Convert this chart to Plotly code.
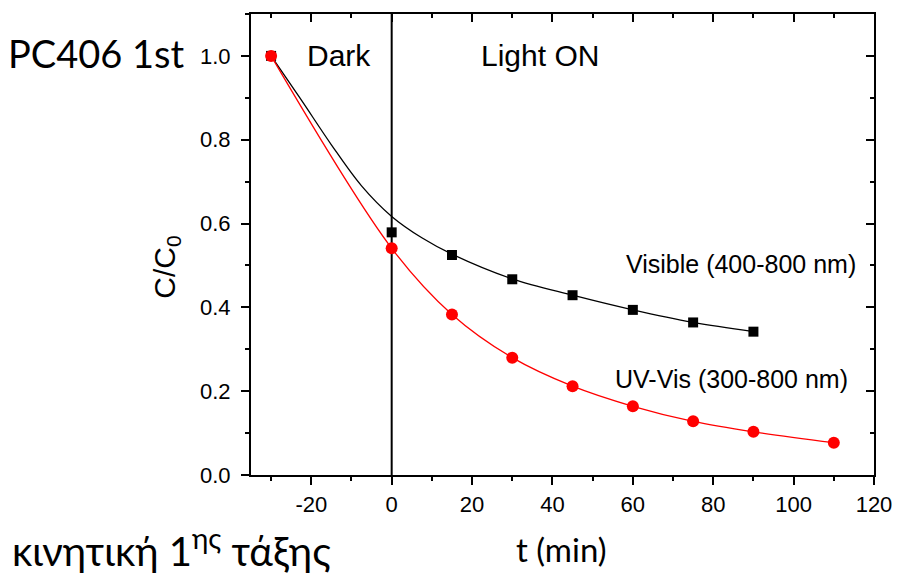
import plotly.graph_objects as go

# Measured normalised concentration C/C0 versus time (min)
t_vis = [-30, 0, 15, 30, 45, 60, 75, 90]
c_vis = [1.0, 0.579, 0.525, 0.467, 0.429, 0.394, 0.364, 0.342]

t_uv = [-30, 0, 15, 30, 45, 60, 75, 90, 110]
c_uv = [1.0, 0.541, 0.383, 0.280, 0.212, 0.164, 0.128, 0.103, 0.077]

# Fitted kinetic curve for the visible-light series
fit_t_vis = [-30, -22.5, -15, -7.5, 0, 7.5, 15, 30, 45, 60, 75, 90]
fit_c_vis = [1.0, 0.895, 0.788, 0.69, 0.617, 0.566, 0.527, 0.468, 0.429, 0.394, 0.364, 0.342]

# Axis ticks
x_tickvals = [-20, 0, 20, 40, 60, 80, 100, 120]
x_ticktext = ["-20", "0", "20", "40", "60", "80", "100", "120"]
x_range = [-35, 120]
y_range = [0, 1.1]

AX_FONT = "Liberation Sans, Arial, sans-serif"
TXT_FONT = "Lato, Noto Sans, sans-serif"

fig = go.Figure()

# fitted lines
fig.add_trace(go.Scatter(x=fit_t_vis, y=fit_c_vis, mode="lines",
                         line=dict(color="black", width=1.3, shape="spline", smoothing=1),
                         showlegend=False, hoverinfo="skip"))
fig.add_trace(go.Scatter(x=t_uv, y=c_uv, mode="lines",
                         line=dict(color="#ff0000", width=1.3, shape="spline"),
                         showlegend=False, hoverinfo="skip"))
# data points
fig.add_trace(go.Scatter(x=t_vis, y=c_vis, mode="markers", name="Visible",
                         marker=dict(symbol="square", size=10, color="black"),
                         showlegend=False))
fig.add_trace(go.Scatter(x=t_uv, y=c_uv, mode="markers", name="UV-Vis",
                         marker=dict(symbol="circle", size=12, color="#ff0000"),
                         showlegend=False))
# carrier for the top/right tick axes
fig.add_trace(go.Scatter(x=t_uv, y=c_uv, mode="markers", xaxis="x2", yaxis="y2",
                         marker=dict(opacity=0), showlegend=False, hoverinfo="skip"))

# light switched on at t = 0
fig.add_vline(x=0, line=dict(color="black", width=2), layer="below")

tickfont = dict(family=AX_FONT, size=22, color="black")

fig.update_layout(
    width=904, height=583,
    margin=dict(l=251, r=28, t=13, b=108),
    paper_bgcolor="white", plot_bgcolor="white",
    xaxis=dict(range=x_range, tickmode="array", tickvals=x_tickvals, ticktext=x_ticktext,
               ticks="outside", ticklen=8, tickwidth=2,
               tickcolor="black", showline=True, linewidth=2, linecolor="black", mirror=True,
               showgrid=False, zeroline=False, tickfont=tickfont, ticklabelstandoff=1,
               minor=dict(dtick=10, tick0=0, ticks="outside", ticklen=4, tickwidth=2,
                          tickcolor="black")),
    yaxis=dict(range=y_range, dtick=0.2, tick0=0, ticks="outside", ticklen=8, tickwidth=2,
               tickcolor="black", showline=True, linewidth=2, linecolor="black", mirror=True,
               showgrid=False, zeroline=False, tickfont=tickfont, tickformat=".1f",
               ticklabelstandoff=6,
               minor=dict(dtick=0.1, ticks="outside", ticklen=4, tickwidth=2, tickcolor="black")),
    xaxis2=dict(range=x_range, overlaying="x", side="top", dtick=20, tick0=0, ticks="inside",
                ticklen=8, tickwidth=2, tickcolor="black", showticklabels=False,
                showgrid=False, zeroline=False, showline=False,
                minor=dict(dtick=10, ticks="inside", ticklen=4, tickwidth=2, tickcolor="black")),
    yaxis2=dict(range=y_range, overlaying="y", side="right", dtick=0.2, tick0=0, ticks="inside",
                ticklen=8, tickwidth=2, tickcolor="black", showticklabels=False,
                showgrid=False, zeroline=False, showline=False,
                minor=dict(dtick=0.1, ticks="inside", ticklen=4, tickwidth=2, tickcolor="black")),
    showlegend=False,
)

P_L, P_R, P_T, P_B = 251, 876, 13, 475


def px(xp):
    return (xp - P_L) / (P_R - P_L)


def py(yp):
    return (P_B - yp) / (P_B - P_T)


annotations = [
    # in-plot labels (data coordinates)
    dict(text="Dark", x=-13, y=1.0, xref="x", yref="y", font=dict(family=AX_FONT, size=30)),
    dict(text="Light ON", x=36.8, y=1.0, xref="x", yref="y", font=dict(family=AX_FONT, size=30)),
    dict(text="Visible (400-800 nm)", x=86.9, y=0.503, xref="x", yref="y",
         font=dict(family=AX_FONT, size=25)),
    dict(text="UV-Vis (300-800 nm)", x=84.5, y=0.230, xref="x", yref="y",
         font=dict(family=AX_FONT, size=25)),
    # axis titles
    dict(text="C/C<sub>0</sub>", x=px(166), y=py(267), xref="paper", yref="paper",
         textangle=-90, font=dict(family=AX_FONT, size=30)),
    dict(text="t (min)", x=px(562), y=py(549), xref="paper", yref="paper",
         font=dict(family=TXT_FONT, size=33)),
    # side captions
    dict(text="PC406 1st", x=px(96), y=py(52), xref="paper", yref="paper",
         font=dict(family=TXT_FONT, size=38)),
    dict(text="κινητική 1<sup>ης</sup> τάξης", x=px(171), y=py(548), xref="paper", yref="paper",
         font=dict(family=TXT_FONT, size=40)),
]
for a in annotations:
    a.setdefault("showarrow", False)
    a.setdefault("xanchor", "center")
    a.setdefault("yanchor", "middle")
    a["font"]["color"] = "black"
fig.update_layout(annotations=annotations)

fig.write_html("out.html")
